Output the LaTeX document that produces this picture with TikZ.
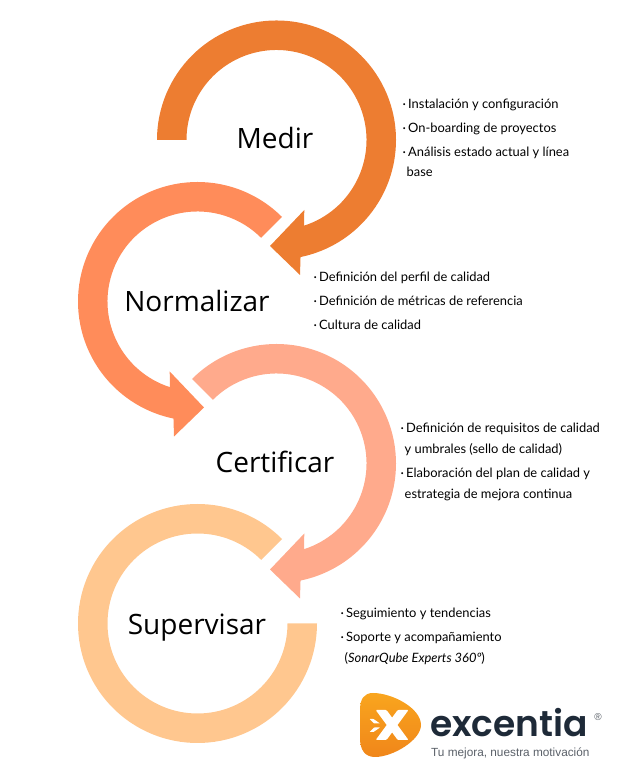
\documentclass[tikz,border=0pt]{standalone}
\usepackage{fontspec}
\setmainfont{Lato}
\newfontfamily\titlefont{Open Sans}
\newfontfamily\logofont{Poppins}[BoldFont={Poppins SemiBold}]
\newfontfamily\tagfont{Liberation Sans}
\definecolor{medirfill}{HTML}{ED7D31}
\definecolor{normfill}{HTML}{FF8C5A}
\definecolor{certfill}{HTML}{FFAA8C}
\definecolor{supfill}{HTML}{FFC78F}
\definecolor{logoink}{HTML}{1E2A38}
\definecolor{tagink}{HTML}{5A6068}
\definecolor{logotop}{HTML}{F9A51E}
\definecolor{logobot}{HTML}{F0861A}
\tikzset{
  titlelabel/.style={font=\titlefont\fontsize{28}{28}\selectfont,text=black,inner sep=0pt},
  itemlabel/.style={font=\fontsize{12.9}{12.9}\selectfont,text=black,inner sep=0pt,anchor=base west},
}
\begin{document}
\begin{tikzpicture}[x=1pt,y=1pt]
\useasboundingbox (0,0) rectangle (616,770);
% arrows, one scope per circle centre
\begin{scope}[shift={(276.5,630)}]
\fill[medirfill] (180:119.5) arc[start angle=180,end angle=-78.4,radius=119.5]
  -- (23.5,-135) -- (-6.5,-106) -- (27.8,-70) -- (-72.2:90)
  arc[start angle=-72.2,end angle=180,radius=90] -- cycle;
\end{scope}
\begin{scope}[shift={(197.5,468.5)},xscale=-1]
\fill[normfill] (135:119.5) arc[start angle=135,end angle=-78.4,radius=119.5]
  -- (23.5,-135) -- (-6.5,-106) -- (27.8,-70) -- (-72.2:90)
  arc[start angle=-72.2,end angle=135,radius=90] -- cycle;
\end{scope}
\begin{scope}[shift={(276.5,306.5)}]
\fill[certfill] (135:119.5) arc[start angle=135,end angle=-78.4,radius=119.5]
  -- (23.5,-135) -- (-6.5,-106) -- (27.8,-70) -- (-72.2:90)
  arc[start angle=-72.2,end angle=135,radius=90] -- cycle;
\end{scope}
\begin{scope}[shift={(197.5,146.5)}]
\fill[supfill] (45:119.5) arc[start angle=45,end angle=360,radius=119.5]
  -- (0:90) arc[start angle=360,end angle=45,radius=90] -- cycle;
\end{scope}
% titles
\node[titlelabel] (medir) at (275,632) {Medir};
\node[titlelabel] (normalizar) at (197,469) {Normalizar};
\node[titlelabel] (certificar) at (275,308) {Certificar};
\node[titlelabel] (supervisar) at (197,142) {Supervisar};
% item lines
\node[itemlabel] (medirA) at (402.5,661) {·\,Instalación y configuración};
\node[itemlabel] (medirB) at (402.5,637) {·\,On-boarding de proyectos};
\node[itemlabel] (medirC) at (402.5,613) {·\,Análisis estado actual y línea};
\node[itemlabel] (medirD) at (406.5,593) {base};
\node[itemlabel] (normA) at (313.5,488) {·\,Definición del perfil de calidad};
\node[itemlabel] (normB) at (313.5,464) {·\,Definición de métricas de referencia};
\node[itemlabel] (normC) at (313.5,440) {·\,Cultura de calidad};
\node[itemlabel] (certA) at (400.5,337) {·\,Definición de requisitos de calidad};
\node[itemlabel] (certB) at (404.5,316) {y umbrales (sello de calidad)};
\node[itemlabel] (certC) at (400.5,292) {·\,Elaboración del plan de calidad y};
\node[itemlabel] (certD) at (404.5,271) {estrategia de mejora continua};
\node[itemlabel] (supA) at (340.5,152) {·\,Seguimiento y tendencias};
\node[itemlabel] (supB) at (340.5,128) {·\,Soporte y acompañamiento};
\node[itemlabel] (supC) at (344.5,107) {(\textit{SonarQube Experts 360º})};
% logo
\shade[top color=logotop,bottom color=logobot]
  (360,60) .. controls (360,71) and (364,77) .. (373,77)
  .. controls (392,77) and (421,62) .. (421,45)
  .. controls (421,30) and (393,13) .. (375,13)
  .. controls (365,13) and (360,20) .. (360,32) -- cycle;
\fill[white,rounded corners=1pt] (375.7,60) -- (386.5,60) -- (408.5,30) -- (397.7,30) -- cycle;
\fill[white,rounded corners=1pt] (397.7,60) -- (408.5,60) -- (386.5,30) -- (375.7,30) -- cycle;
\fill[white,rounded corners=.5pt] (369.5,51) -- (373.5,51) -- (380,46.5) -- (374,46.5) -- cycle;
\fill[white,rounded corners=.5pt] (369.5,38) -- (373.5,38) -- (380,42.5) -- (374,42.5) -- cycle;
\node[font=\logofont\bfseries\fontsize{36}{36}\selectfont,text=logoink,inner sep=0pt,anchor=base west] (logoname) at (430,33) {excentia};
\node[font=\tagfont\fontsize{10}{10}\selectfont,text=tagink,inner sep=0pt] (logomark) at (598,53) {®};
\node[font=\tagfont\fontsize{11.8}{11.8}\selectfont,text=tagink,inner sep=0pt,anchor=base west] (logotag) at (431,13.5) {Tu mejora, nuestra motivación};
\end{tikzpicture}
\end{document}
